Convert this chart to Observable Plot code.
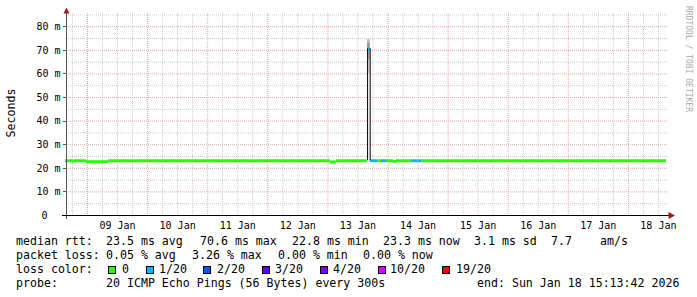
<!DOCTYPE html>
<html><head><meta charset="utf-8">
<script src="https://cdn.jsdelivr.net/npm/d3@7"></script>
<script src="https://cdn.jsdelivr.net/npm/@observablehq/plot@0.6"></script>
<style>
html,body{margin:0;padding:0;background:#fff;}
#wrap{position:relative;width:697px;height:297px;overflow:hidden;background:#fff;font-family:"DejaVu Sans Mono",monospace;}
#chart{position:absolute;left:0;top:0;}
#legend{position:absolute;left:0;top:0;width:697px;height:297px;}
#legend span.t{position:absolute;font-size:11.6px;line-height:14px;white-space:pre;color:#000;}
#legend span.b{position:absolute;width:8px;height:8px;box-sizing:border-box;border:1px solid #000;}
</style></head><body><div id="wrap"><div id="chart"></div><div id="legend"></div></div>
<script>
const T = s => new Date(s + "Z");
const startTime = T("2026-01-08T15:13:42");
const endTime = T("2026-01-18T15:13:42");

// median rtt segments (ms) and loss level index
const segStart = ["2026-01-08T15:13","2026-01-08T18:00","2026-01-08T18:25","2026-01-08T23:37","2026-01-09T08:25","2026-01-13T01:01","2026-01-13T03:25","2026-01-13T15:50","2026-01-13T16:55","2026-01-13T17:00","2026-01-13T19:49","2026-01-13T21:25","2026-01-13T23:25","2026-01-14T02:13","2026-01-14T03:25","2026-01-14T09:25","2026-01-14T11:49","2026-01-14T12:13","2026-01-14T13:25"];
const segEnd   = ["2026-01-08T18:00","2026-01-08T18:25","2026-01-08T23:37","2026-01-09T08:25","2026-01-13T01:01","2026-01-13T03:25","2026-01-13T15:50","2026-01-13T16:55","2026-01-13T17:00","2026-01-13T19:49","2026-01-13T21:25","2026-01-13T23:25","2026-01-14T02:13","2026-01-14T03:25","2026-01-14T09:25","2026-01-14T11:49","2026-01-14T12:13","2026-01-14T13:25","2026-01-18T15:13"];
const segMedian = [23.2,22.8,23.2,22.8,23.2,22.7,23.2,70.6,23.2,23.2,23.2,23.2,23.2,22.9,23.2,23.2,23.2,23.2,23.2];
const segLoss   = [0,0,0,0,0,0,0,1,0,1,0,1,0,0,0,1,0,1,0];

// smoke (ping spread) bands
const smokeStart = ["2026-01-13T15:50","2026-01-13T15:50","2026-01-13T15:50","2026-01-12T03:52"];
const smokeEnd   = ["2026-01-13T16:55","2026-01-13T16:55","2026-01-13T16:55","2026-01-12T03:58"];
const smokeLow   = [23.2, 60, 66, 23.2];
const smokeHigh  = [74.6, 74.6, 73, 26.0];
const smokeShade = ["#e6e6e6","#c4c4c4","#9a9a9a","#d4d4d4"];

// spike step edges
const edgeTime = ["2026-01-13T15:50","2026-01-13T16:55"];
const edgeLow  = [23.2, 23.2];
const edgeHigh = [70.6, 70.6];

const lossColors = ["#26ff00","#00b8ff","#0059ff","#5e00ff","#7e00ff","#dd00ff","#ff0000"];
const lossLabels = ["0","1/20","2/20","3/20","4/20","10/20","19/20"];

const dayLabels = ["09 Jan","10 Jan","11 Jan","12 Jan","13 Jan","14 Jan","15 Jan","16 Jan","17 Jan","18 Jan"];
const dayNoons = ["2026-01-09T12:00","2026-01-10T12:00","2026-01-11T12:00","2026-01-12T12:00","2026-01-13T12:00","2026-01-14T12:00","2026-01-15T12:00","2026-01-16T12:00","2026-01-17T12:00","2026-01-18T12:00"];
const yTickValues = [0,10,20,30,40,50,60,70,80];
const yTickLabels = ["0","10 m","20 m","30 m","40 m","50 m","60 m","70 m","80 m"];

const legendRow1 = ["median rtt:","23.5 ms avg","70.6 ms max","22.8 ms min","23.3 ms now","3.1 ms sd","7.7","am/s"];
const legendRow2 = ["packet loss:","0.05 % avg","3.26 % max","0.00 % min","0.00 % now"];
const legendRow3Label = "loss color:";
const legendRow4 = ["probe:","20 ICMP Echo Pings (56 Bytes) every 300s","end: Sun Jan 18 15:13:42 2026"];
const yTitle = "Seconds";
const watermark = "RRDTOOL / TOBI OETIKER";

// ---- build tables ----
const segs = segStart.map((s,i)=>({x1:T(s), x2:T(segEnd[i]), y:segMedian[i], c:lossColors[segLoss[i]]}));
const smoke = smokeStart.map((s,i)=>({x1:T(s), x2:T(smokeEnd[i]), y1:smokeLow[i], y2:smokeHigh[i], f:smokeShade[i]}));
const edges = edgeTime.map((s,i)=>({x:T(s), y1:edgeLow[i], y2:edgeHigh[i]}));
const dayRows = dayLabels.map((l,i)=>({label:l, t:T(dayNoons[i]), v:0}));
const yRows = yTickValues.map((v,i)=>({v, label:yTickLabels[i]}));

const majorX = d3.utcDay.range(startTime, endTime);
const minorX = d3.utcHour.every(6).range(startTime, endTime).filter(d => d.getUTCHours() !== 0);
const majorY = d3.range(10, 81, 10);
const minorY = d3.range(5, 86, 10);

const fontFam = "DejaVu Sans Mono";
const chart = Plot.plot({
  width: 697, height: 233,
  marginLeft: 66, marginRight: 30, marginTop: 13, marginBottom: 18,
  style: {fontFamily: fontFam, fontSize: "10px", background: "#fff", overflow: "visible"},
  x: {type: "utc", domain: [startTime, endTime], range: [65, 666], axis: null},
  y: {domain: [0, 85.6], axis: null},
  marks: [
    Plot.ruleX(minorX, {stroke: "#cccccc", strokeDasharray: "1,1"}),
    Plot.ruleY(minorY, {stroke: "#cccccc", strokeDasharray: "1,1"}),
    Plot.ruleX(majorX, {stroke: "#e6a4a4", strokeDasharray: "1,1"}),
    Plot.ruleY(majorY, {stroke: "#e6a4a4", strokeDasharray: "1,1"}),
    Plot.rect(smoke, {x1: "x1", x2: "x2", y1: "y1", y2: "y2", fill: "f"}),
    Plot.ruleY(segs, {y: "y", x1: "x1", x2: "x2", stroke: "c", strokeWidth: 3}),
    Plot.ruleX(edges, {x: "x", y1: "y1", y2: "y2", stroke: "#111", strokeWidth: 1}),
    Plot.text(dayRows, {x: "t", y: "v", text: "label", dy: 13, lineAnchor: "bottom", fontSize: 10, fill: "#000"}),
    Plot.text(yRows.filter(d => d.v !== 0), {y: "v", text: "label", frameAnchor: "left", textAnchor: "end", dx: -6, fontSize: 10, fill: "#000"}),
    Plot.text(yRows.filter(d => d.v === 0), {y: "v", text: "label", frameAnchor: "left", textAnchor: "end", dx: -19, fontSize: 10, fill: "#000"})
  ]
});
document.getElementById("chart").appendChild(chart);

// ---- rrdtool-style axes and decorations ----
const svg = d3.select(chart);
const yScale = chart.scale("y");
const g = svg.append("g");
yTickValues.forEach(v => {
  const py = Math.round(yScale.apply(v)) + 0.5;
  g.append("line").attr("x1", 63).attr("x2", 66).attr("y1", py).attr("y2", py).attr("stroke", "#555");
});
g.append("line").attr("x1", 66.5).attr("x2", 66.5).attr("y1", 219).attr("y2", 11).attr("stroke", "#555");
g.append("line").attr("x1", 62).attr("x2", 669).attr("y1", 215.5).attr("y2", 215.5).attr("stroke", "#000");
g.append("path").attr("d", "M63.5,13.5L69.5,13.5L66.5,7.5Z").attr("fill", "#a01c1c");
g.append("path").attr("d", "M668.5,212L668.5,219L675,215.5Z").attr("fill", "#a01c1c");
svg.append("text").attr("transform", "translate(11,113) rotate(-90)")
  .attr("text-anchor", "middle").attr("dy", "0.35em")
  .attr("font-family", fontFam).attr("font-size", "11.6px").attr("fill", "#000").text(yTitle);
svg.append("text").attr("transform", "translate(688.5,59) rotate(90)")
  .attr("text-anchor", "middle").attr("dy", "0.35em")
  .attr("font-family", fontFam).attr("font-size", "8px").attr("fill", "#aaaaaa").text(watermark);

// ---- legend (HTML below the plot) ----
const leg = document.getElementById("legend");
function addText(txt, x, baseline) {
  const s = document.createElement("span");
  s.className = "t"; s.textContent = txt;
  s.style.left = x + "px"; s.style.top = (baseline - 11) + "px";
  leg.appendChild(s);
}
function addBox(color, x, baseline) {
  const s = document.createElement("span");
  s.className = "b"; s.style.background = color;
  s.style.left = x + "px"; s.style.top = (baseline - 7) + "px";
  leg.appendChild(s);
}
const row1X = [16,106,200,292,383,474,551,600];
const row2X = [16,106,192,278,363];
const boxX  = [108,146,203,262,320,378,442];
const lblX  = [122,159,217,275,333,390,456];
const row4X = [16,106,477];
legendRow1.forEach((t,i)=>addText(t, row1X[i], 245));
legendRow2.forEach((t,i)=>addText(t, row2X[i], 259));
addText(legendRow3Label, 16, 273);
lossLabels.forEach((t,i)=>{ addBox(lossColors[i], boxX[i], 273); addText(t, lblX[i], 273); });
legendRow4.forEach((t,i)=>addText(t, row4X[i], 287));
</script></body></html>
